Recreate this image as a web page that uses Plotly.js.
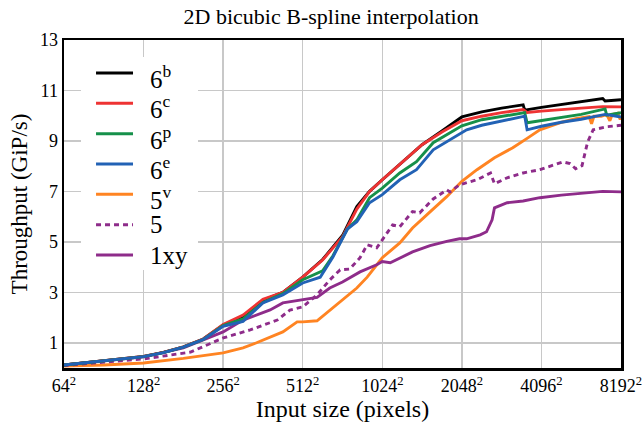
<!DOCTYPE html>
<html>
<head>
<meta charset="utf-8">
<script src="https://cdn.plot.ly/plotly-3.0.1.min.js"></script>
<style>html,body{margin:0;padding:0;background:#fff;}#chart{width:643px;height:433px;}</style>
</head>
<body>
<div id="chart"></div>
<script>
// x values are log2 of the image side length (6 -> 64^2 ... 13 -> 8192^2)
const tickExp = [6, 7, 8, 9, 10, 11, 12, 13];
const tickText = ['64<sup>2</sup>', '128<sup>2</sup>', '256<sup>2</sup>', '512<sup>2</sup>', '1024<sup>2</sup>', '2048<sup>2</sup>', '4096<sup>2</sup>', '8192<sup>2</sup>'];
const yTicks = [1, 3, 5, 7, 9, 11, 13];

const x6b = [6.0, 6.25, 6.5, 6.75, 7.0, 7.25, 7.5, 7.75, 8.0, 8.25, 8.5, 8.75, 9.0, 9.25, 9.5, 9.68, 9.76, 9.84, 10.0, 10.25, 10.5, 10.75, 11.0, 11.25, 11.5, 11.77, 11.79, 12.0, 12.25, 12.5, 12.77, 12.8, 13.0];
const y6b = [0.12, 0.2, 0.28, 0.36, 0.46, 0.62, 0.84, 1.15, 1.7, 2.05, 2.68, 3.0, 3.6, 4.3, 5.25, 6.4, 6.7, 7.0, 7.46, 8.17, 8.85, 9.4, 9.95, 10.15, 10.3, 10.43, 10.22, 10.33, 10.45, 10.55, 10.68, 10.58, 10.63];

const x6c = [6.0, 6.25, 6.5, 6.75, 7.0, 7.25, 7.5, 7.75, 8.0, 8.25, 8.5, 8.75, 9.0, 9.25, 9.5, 9.68, 9.84, 10.0, 10.25, 10.5, 10.75, 11.0, 11.25, 11.5, 11.77, 11.82, 12.0, 12.25, 12.5, 12.77, 13.0];
const y6c = [0.12, 0.2, 0.28, 0.36, 0.46, 0.62, 0.84, 1.15, 1.72, 2.1, 2.72, 3.0, 3.6, 4.28, 5.2, 6.3, 7.0, 7.46, 8.15, 8.85, 9.35, 9.8, 9.98, 10.12, 10.24, 10.13, 10.18, 10.25, 10.3, 10.36, 10.35];

const x6p = [6.0, 6.25, 6.5, 6.75, 7.0, 7.25, 7.5, 7.75, 8.0, 8.25, 8.5, 8.75, 9.0, 9.25, 9.38, 9.56, 9.68, 9.84, 10.0, 10.22, 10.43, 10.64, 10.85, 11.0, 11.25, 11.5, 11.79, 11.82, 12.0, 12.25, 12.5, 12.8, 12.82, 13.0];
const y6p = [0.12, 0.2, 0.28, 0.36, 0.45, 0.61, 0.83, 1.13, 1.68, 1.95, 2.6, 2.95, 3.5, 3.85, 4.45, 5.5, 5.87, 6.75, 7.13, 7.73, 8.18, 8.93, 9.32, 9.6, 9.84, 9.96, 10.12, 9.72, 9.8, 9.92, 10.05, 10.27, 10.02, 10.12];

const x6e = [6.0, 6.25, 6.5, 6.75, 7.0, 7.25, 7.5, 7.75, 8.0, 8.25, 8.5, 8.75, 9.0, 9.22, 9.38, 9.56, 9.68, 9.84, 10.0, 10.22, 10.43, 10.64, 10.85, 11.06, 11.25, 11.5, 11.79, 11.82, 12.0, 12.25, 12.5, 12.8, 13.0];
const y6e = [0.12, 0.2, 0.28, 0.36, 0.45, 0.61, 0.83, 1.13, 1.65, 1.85, 2.58, 2.9, 3.37, 3.6, 4.4, 5.5, 5.8, 6.55, 6.87, 7.46, 7.86, 8.65, 9.05, 9.44, 9.62, 9.78, 9.98, 9.44, 9.58, 9.74, 9.86, 10.05, 9.95];

const x5v = [6.0, 6.5, 7.0, 7.5, 8.0, 8.25, 8.42, 8.75, 8.93, 9.0, 9.18, 9.47, 9.68, 9.81, 10.0, 10.22, 10.38, 10.6, 10.81, 11.0, 11.19, 11.41, 11.64, 11.82, 11.98, 12.23, 12.43, 12.6, 12.63, 12.66, 12.75, 12.82, 12.86, 12.89, 12.96, 12.99, 13.0];
const y5v = [0.08, 0.12, 0.2, 0.38, 0.6, 0.8, 1.0, 1.43, 1.83, 1.83, 1.87, 2.62, 3.17, 3.6, 4.37, 4.96, 5.55, 6.19, 6.79, 7.4, 7.86, 8.33, 8.73, 9.1, 9.44, 9.72, 9.88, 9.96, 9.68, 9.98, 9.98, 10.04, 9.8, 10.05, 10.1, 9.85, 9.95];

const x5 = [6.0, 7.0, 7.59, 8.0, 8.34, 8.68, 8.84, 9.0, 9.18, 9.34, 9.47, 9.59, 9.72, 9.81, 9.93, 10.13, 10.22, 10.38, 10.47, 10.64, 10.81, 10.85, 10.97, 11.19, 11.36, 11.41, 11.57, 11.77, 11.98, 12.27, 12.36, 12.43, 12.51, 12.58, 12.65, 12.82, 13.0];
const y5 = [0.1, 0.36, 0.63, 1.19, 1.51, 1.9, 2.3, 2.42, 2.9, 3.49, 3.89, 3.92, 4.37, 4.88, 4.76, 5.67, 5.6, 6.2, 6.15, 6.7, 7.06, 6.98, 7.26, 7.46, 7.73, 7.3, 7.54, 7.73, 7.86, 8.17, 8.1, 7.9, 8.02, 8.95, 9.44, 9.56, 9.62];

const x1xy = [6.0, 7.0, 7.5, 7.75, 8.0, 8.25, 8.5, 8.59, 8.75, 9.0, 9.18, 9.34, 9.5, 9.72, 9.93, 10.0, 10.1, 10.38, 10.6, 10.81, 10.97, 11.06, 11.23, 11.31, 11.38, 11.41, 11.5, 11.57, 11.77, 11.98, 12.25, 12.51, 12.77, 13.0];
const y1xy = [0.12, 0.44, 0.8, 1.1, 1.43, 1.9, 2.2, 2.3, 2.58, 2.7, 2.8, 3.17, 3.41, 3.81, 4.09, 4.22, 4.17, 4.6, 4.85, 5.02, 5.12, 5.12, 5.28, 5.4, 5.87, 6.35, 6.47, 6.55, 6.62, 6.75, 6.85, 6.92, 7.0, 6.98];

const seriesNames = ['6<sup>b</sup>', '6<sup>c</sup>', '6<sup>p</sup>', '6<sup>e</sup>', '5<sup>v</sup>', '5', '1xy'];
const seriesX = [x6b, x6c, x6p, x6e, x5v, x5, x1xy];
const seriesY = [y6b, y6c, y6p, y6e, y5v, y5, y1xy];
const seriesColors = ['#000000', '#ee3333', '#16904a', '#2262b5', '#ff8422', '#8e2c8a', '#8e2c8a'];
const seriesDash = ['solid', 'solid', 'solid', 'solid', 'solid', '5px,4px', 'solid'];

// drawing order: orange, 5, 1xy underneath, then black, red, green, blue on top
const order = [4, 5, 6, 0, 1, 2, 3];
const traces = order.map(i => ({
  type: 'scatter', mode: 'lines', name: seriesNames[i], x: seriesX[i], y: seriesY[i],
  line: {color: seriesColors[i], width: 2.9, dash: seriesDash[i]}
}));

const font = 'Liberation Serif';

// legend drawn in paper coordinates: white box, sample lines, labels
const shapes = [{
  type: 'rect', xref: 'paper', yref: 'paper', x0: 0.0305, x1: 0.2406, y0: 0.299, y1: 0.948,
  fillcolor: '#ffffff', line: {width: 0}, layer: 'above'
}];
const annotations = [];
seriesNames.forEach((name, i) => {
  const yy = 0.8994 - i * 0.0925;
  shapes.push({type: 'line', xref: 'paper', yref: 'paper', x0: 0.0575, x1: 0.1239, y0: yy, y1: yy,
    line: {color: seriesColors[i], width: 3, dash: seriesDash[i]}, layer: 'above'});
  annotations.push({xref: 'paper', yref: 'paper', x: 0.1508, y: yy, xanchor: 'left', yanchor: 'middle',
    text: name, showarrow: false, font: {family: font, size: 25, color: '#000'},
    yshift: name.indexOf('<sup>') >= 0 ? -4 : 0});
});

const layout = {
  width: 643, height: 433,
  margin: {l: 64, r: 22, t: 40, b: 65},
  paper_bgcolor: '#ffffff', plot_bgcolor: '#ffffff',
  font: {family: font, color: '#000000'},
  title: {text: '2D bicubic B-spline interpolation', font: {family: font, size: 22, color: '#000'}, x: 0.515, xref: 'container', y: 0.962, yref: 'container', yanchor: 'middle'},
  xaxis: {
    range: [6, 13], tickvals: tickExp, ticktext: tickText, showgrid: true, gridcolor: '#c8c8c8', gridwidth: 1.5,
    zeroline: false, showline: true, mirror: true, linecolor: '#000', linewidth: 2.5, ticks: '',
    tickfont: {family: font, size: 18, color: '#000'},
    title: {text: 'Input size (pixels)', font: {family: font, size: 24, color: '#000'}, standoff: 5}
  },
  yaxis: {
    range: [0, 13], tickvals: yTicks, showgrid: true, gridcolor: '#c8c8c8', gridwidth: 1.5,
    zeroline: false, showline: true, mirror: true, linecolor: '#000', linewidth: 2.5, ticks: '',
    tickfont: {family: font, size: 18, color: '#000'},
    title: {text: 'Throughput (GiP/s)', font: {family: font, size: 23, color: '#000'}, standoff: 6}
  },
  showlegend: false,
  shapes: shapes,
  annotations: annotations
};

Plotly.newPlot('chart', traces, layout, {staticPlot: true, displayModeBar: false});
</script>
</body>
</html>
